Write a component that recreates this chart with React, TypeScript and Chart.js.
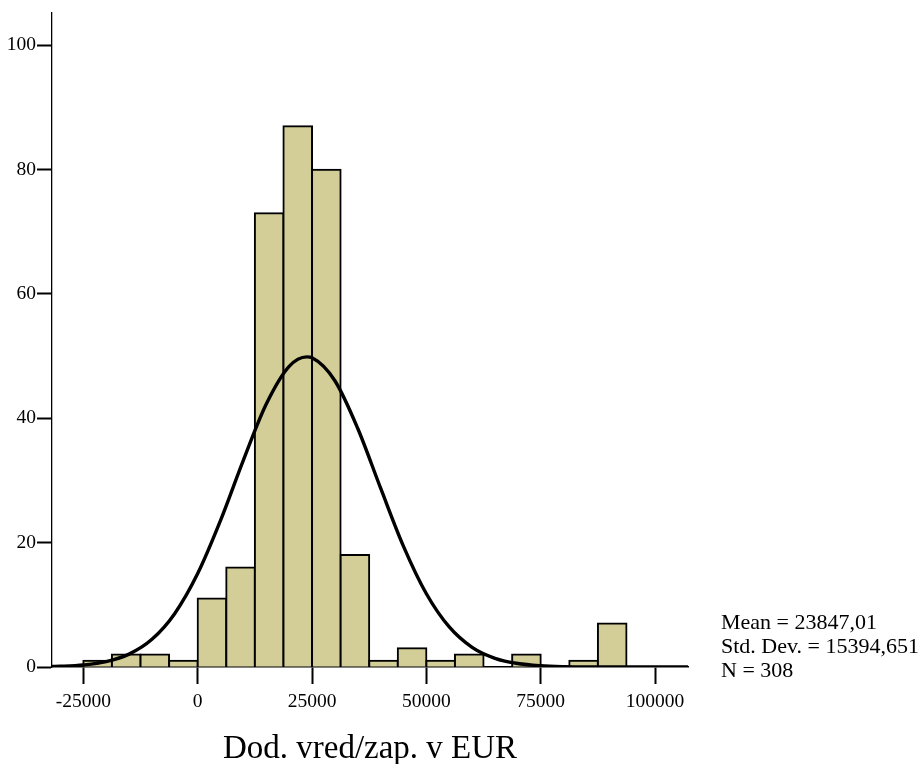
import React, { useEffect, useRef } from "react";
import { Chart, registerables } from "chart.js";

Chart.register(...registerables);

// Histogram bins (lower edge of each bin, bin width 6250)
const binStarts = [
  -25000, -18750, -12500, -6250, 0, 6250, 12500, 18750, 25000, 31250, 37500,
  43750, 50000, 56250, 62500, 68750, 75000, 81250, 87500,
];
const binWidth = 6250;
const counts = [1, 2, 2, 1, 11, 16, 73, 87, 80, 18, 1, 3, 1, 2, 0, 2, 0, 1, 7];

// Normal curve
const curveX = [
  -31850, -30000, -25000, -20000, -15000, -10000, -5000, 0, 5000, 10000, 15000,
  20000, 23847, 25000, 30000, 35000, 40000, 45000, 50000, 55000, 60000, 65000,
  70000, 75000, 80000, 85000, 90000, 107200,
];
const curveY = [
  0.07, 0.11, 0.33, 0.86, 2.07, 4.45, 8.62, 15.03, 23.58, 33.28, 42.29, 48.35,
  49.88, 49.74, 46.05, 38.37, 28.76, 19.41, 11.78, 6.44, 3.16, 1.4, 0.56, 0.2,
  0.06, 0.02, 0.0, 0.0,
];

const xTicks = [-25000, 0, 25000, 50000, 75000, 100000];
const yTicks = [0, 20, 40, 60, 80, 100];
const statLines = ["Mean = 23847,01", "Std. Dev. = 15394,651", "N = 308"];
const xTitle = "Dod. vred/zap. v EUR";

const FONT = "'Liberation Serif', 'DejaVu Serif', serif";

export default function App() {
  const ref = useRef<HTMLCanvasElement | null>(null);

  useEffect(() => {
    if (!ref.current) return;
    Chart.defaults.font.family = FONT;
    Chart.defaults.color = "#000";

    const statsPlugin = {
      id: "stats",
      afterDraw(chart: any) {
        const ctx = chart.ctx;
        const area = chart.chartArea;
        ctx.save();
        ctx.fillStyle = "#000";
        ctx.font = `22px ${FONT}`;
        ctx.textAlign = "left";
        ctx.textBaseline = "alphabetic";
        statLines.forEach((t, i) => {
          ctx.fillText(t, area.right + 33, 629 + i * 24);
        });
        ctx.restore();
      },
    };

    const chart = new Chart(ref.current, {
      type: "bar",
      data: {
        datasets: [
          {
            type: "line",
            data: curveX.map((x, i) => ({ x, y: curveY[i] })),
            borderColor: "#000",
            borderWidth: 3.4,
            pointRadius: 0,
            cubicInterpolationMode: "monotone",
            fill: false,
            order: 0,
          } as any,
          {
            type: "bar",
            data: binStarts.map((b, i) => ({ x: b + binWidth / 2, y: counts[i] })),
            backgroundColor: "#d3ce98",
            borderColor: "#000",
            borderWidth: 2,
            borderSkipped: "bottom",
            inflateAmount: 1,
            barPercentage: 1,
            categoryPercentage: 1,
            order: 1,
          } as any,
        ],
      },
      options: {
        animation: false,
        responsive: false,
        devicePixelRatio: 1,
        layout: { padding: { left: 0, top: 13, right: 236, bottom: 0 } },
        plugins: {
          legend: { display: false },
          tooltip: { enabled: false },
        },
        scales: {
          x: {
            type: "linear",
            min: -31850,
            max: 107200,
            offset: false,
            afterBuildTicks: (s: any) => {
              s.ticks = xTicks.map((v) => ({ value: v }));
            },
            afterFit: (s: any) => {
              s.height = 97;
            },
            ticks: {
              autoSkip: false,
              maxRotation: 0,
              padding: 6,
              color: "#000",
              font: { size: 19.5, family: FONT },
              callback: (v: any) => String(v),
            },
            grid: {
              display: true,
              offset: false,
              drawOnChartArea: false,
              drawTicks: true,
              tickLength: 17,
              tickWidth: 2,
              tickColor: "#000",
            },
            border: { display: true, color: "#000", width: 1.6 },
            title: {
              display: true,
              text: xTitle,
              color: "#000",
              font: { size: 33, family: FONT, lineHeight: 1 },
              padding: { top: 0, bottom: -2 },
            },
          },
          y: {
            type: "linear",
            min: 0,
            max: 105.2,
            afterBuildTicks: (s: any) => {
              s.ticks = yTicks.map((v) => ({ value: v }));
            },
            afterFit: (s: any) => {
              s.width = 52;
            },
            ticks: {
              padding: 1,
              color: "#000",
              font: { size: 19.5, family: FONT },
              callback: (v: any) => String(v),
            },
            grid: {
              display: true,
              drawOnChartArea: false,
              drawTicks: true,
              tickLength: 15,
              tickWidth: 2,
              tickColor: "#000",
            },
            border: { display: true, color: "#000", width: 1.3 },
          },
        },
      },
      plugins: [statsPlugin],
    } as any);

    return () => chart.destroy();
  }, []);

  return (
    <div style={{ position: "absolute", left: 0, top: 0, width: 924, height: 764, background: "#fff" }}>
      <canvas ref={ref} width={924} height={764} style={{ display: "block" }} />
    </div>
  );
}
